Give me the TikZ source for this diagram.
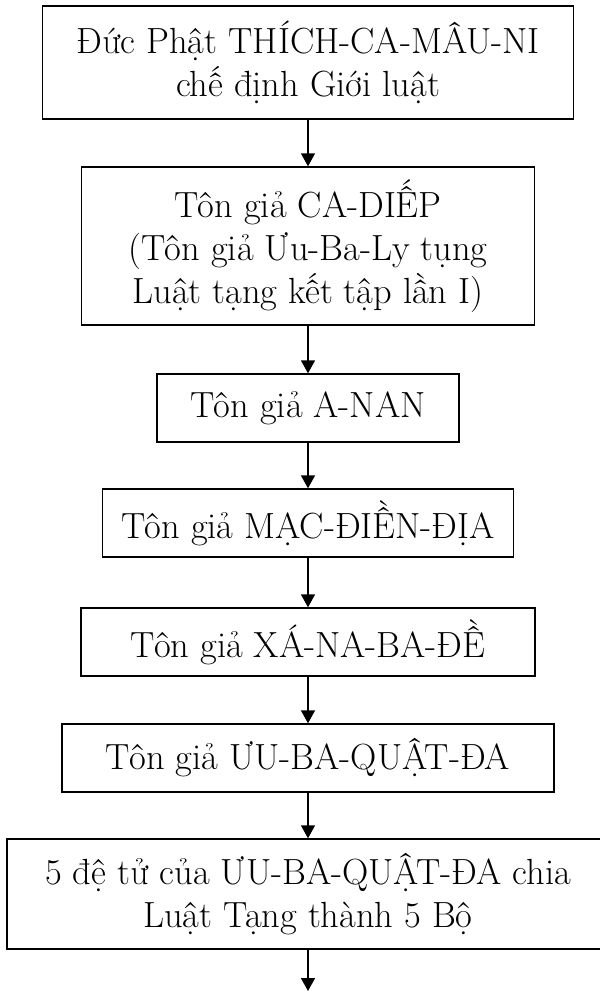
\documentclass[tikz,border=0pt]{standalone}
\usepackage{fontspec}
\usetikzlibrary{arrows.meta,positioning}
\tikzset{
  lawbox/.style={
    rectangle, draw=black, line width=0.7pt,
    minimum width=#1, align=center,
    font=\fontsize{18.2}{21.5}\selectfont\addfontfeatures{FakeBold=0.4},
    inner sep=2pt
  },
  lawbox/.default=200pt,
  lawarrow/.style={
    -{Triangle[length=6.5pt, width=7pt]}, line width=0.8pt
  },
}

\begin{document}
\begin{tikzpicture}[x=0.5pt, y=-0.5pt]
  \useasboundingbox (0,0) rectangle (600,992);
  \node[lawbox=265.5pt, minimum height=56.5pt] (buddha) at (308,62.5)
    {Đức Phật THÍCH-CA-MÂU-NI\\chế định Giới luật};
  \node[lawbox=226.5pt, minimum height=79pt] (kasyapa) at (308,246)
    {Tôn giả CA-DIẾP\\(Tôn giả Ưu-Ba-Ly tụng\\Luật tạng kết tập lần I)};
  \node[lawbox=151pt, minimum height=34pt] (ananda) at (308,408)
    {Tôn giả A-NAN};
  \node[lawbox=205.5pt, minimum height=34pt] (madhyan) at (308,523)
    {Tôn giả MẠC-ĐIỀN-ĐỊA};
  \node[lawbox=227pt, minimum height=34pt] (sanavasa) at (308,642)
    {Tôn giả XÁ-NA-BA-ĐỀ};
  \node[lawbox=246pt, minimum height=34pt] (upagupta) at (308,758)
    {Tôn giả ƯU-BA-QUẬT-ĐA};
  \node[lawbox=301pt, minimum height=55pt] (five) at (308,894)
    {5 đệ tử của ƯU-BA-QUẬT-ĐA chia\\Luật Tạng thành 5 Bộ};
  \coordinate (tail) at (308,991);
  % lineage arrows
  \draw[lawarrow] (buddha) -- (kasyapa);
  \draw[lawarrow] (kasyapa) -- (ananda);
  \draw[lawarrow] (ananda) -- (madhyan);
  \draw[lawarrow] (madhyan) -- (sanavasa);
  \draw[lawarrow] (sanavasa) -- (upagupta);
  \draw[lawarrow] (upagupta) -- (five);
  \draw[lawarrow] (five) -- (tail);
\end{tikzpicture}
\end{document}
